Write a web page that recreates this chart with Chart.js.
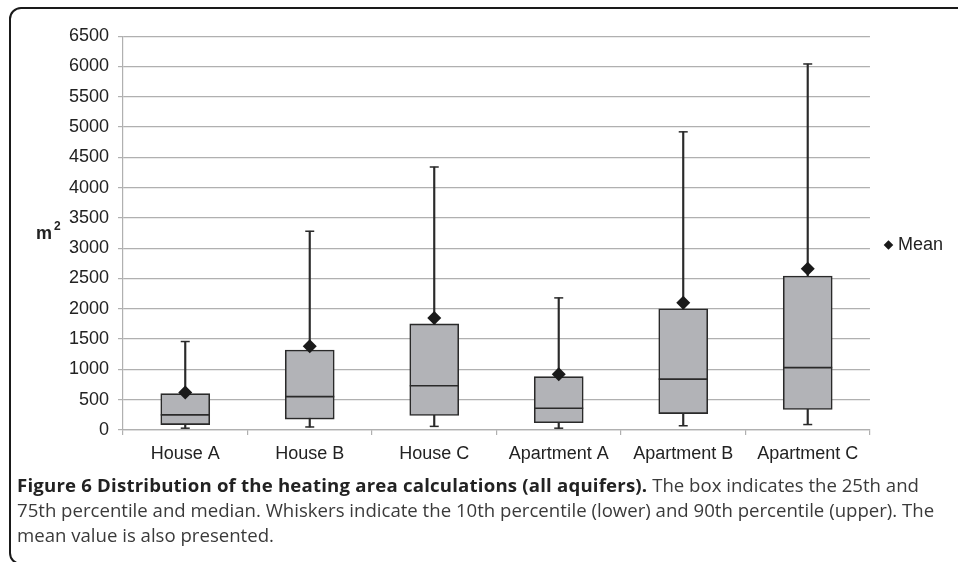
<!DOCTYPE html>
<html>
<head>
<meta charset="utf-8">
<script src="https://cdn.jsdelivr.net/npm/chart.js@4/dist/chart.umd.min.js"></script>
<style>
  html, body { margin: 0; padding: 0; background: #fff; width: 958px; height: 562px; overflow: hidden; }
  #frame { position: absolute; left: 9px; top: 7px; width: 1000px; height: 554px;
           border: 2px solid #1a1a1a; border-radius: 12px 0 0 12px; }
  #wrap { position: absolute; left: 10px; top: 10px; width: 948px; height: 468px; }
  #ylab { position: absolute; left: 36px; top: 221px; font-family: "Liberation Sans", Arial, sans-serif;
          font-weight: bold; font-size: 18px; color: #222; }
  #ylab sup { font-size: 12px; position: relative; top: -2px; margin-left: 2px; }
  #cap { position: absolute; left: 17px; top: 472px; font-family: "Open Sans", sans-serif; font-size: 18.6px;
         line-height: 25px; color: #3a3a3a; white-space: nowrap; }
  #cap b { color: #222; letter-spacing: 0.2px; }
</style>
</head>
<body>
<div id="frame"></div>
<div id="wrap"><canvas id="c" width="948" height="468" style="width:948px;height:468px"></canvas></div>
<div id="ylab">m<sup>2</sup></div>
<div id="cap"><b>Figure 6 Distribution of the heating area calculations (all aquifers).</b> The box indicates the 25th and<br>75th percentile and median. Whiskers indicate the 10th percentile (lower) and 90th percentile (upper). The<br>mean value is also presented.</div>
<script>
const categories = ["House A", "House B", "House C", "Apartment A", "Apartment B", "Apartment C"];
const p10    = [30, 50, 60, 30, 70, 90];
const q1     = [90, 180, 240, 120, 270, 340];
const median = [250, 550, 730, 360, 840, 1030];
const q3     = [600, 1320, 1750, 880, 2000, 2540];
const p90    = [1460, 3280, 4340, 2180, 4920, 6040];
const mean   = [620, 1380, 1850, 920, 2100, 2660];
const yTicks = { min: 0, max: 6500, step: 500 };

const dark = "#2a2a2a";
const gridColor = "#b0b0b0";
const font = { family: "'Liberation Sans', Arial, sans-serif", size: 18 };

new Chart(document.getElementById("c"), {
  type: "bar",
  data: {
    labels: categories,
    datasets: [
      { type: "line", label: "Mean", data: mean, showLine: false, order: 0,
        pointStyle: "rectRot", pointRadius: 7, pointHoverRadius: 7,
        pointBackgroundColor: "#1a1a1a", pointBorderColor: "#1a1a1a", pointBorderWidth: 0,
        backgroundColor: "#1a1a1a", borderColor: "#1a1a1a" },
      { type: "line", label: "Median", data: median, showLine: false, order: 1,
        pointStyle: "line", pointRadius: 24.5, pointHoverRadius: 24.5,
        pointBorderColor: dark, pointBorderWidth: 1.6, borderColor: dark },
      { type: "line", label: "P90cap", data: p90, showLine: false, order: 1,
        pointStyle: "line", pointRadius: 4.5, pointHoverRadius: 4.5,
        pointBorderColor: dark, pointBorderWidth: 1.5, borderColor: dark },
      { type: "line", label: "P10cap", data: p10, showLine: false, order: 1,
        pointStyle: "line", pointRadius: 4.5, pointHoverRadius: 4.5,
        pointBorderColor: dark, pointBorderWidth: 1.5, borderColor: dark },
      { label: "Box", data: q1.map((v, i) => [v, q3[i]]), order: 2, grouped: false,
        barThickness: 49, backgroundColor: "#b2b3b7", borderColor: dark, borderWidth: 1.6,
        borderSkipped: false },
      { label: "Whisker", data: p10.map((v, i) => [v, p90[i]]), order: 3, grouped: false,
        barThickness: 1.5, backgroundColor: dark, borderWidth: 0 }
    ]
  },
  options: {
    responsive: false,
    animation: false,
    events: [],
    layout: { padding: { top: 10, right: 5, bottom: 8, left: 0 } },
    plugins: {
      tooltip: { enabled: false },
      legend: {
        position: "right",
        align: "center",
        labels: {
          filter: (item) => item.text === "Mean",
          usePointStyle: true,
          boxWidth: 1,
          boxHeight: 6.8,
          padding: 18,
          color: "#222",
          font: font
        }
      }
    },
    scales: {
      x: {
        offset: true,
        grid: { display: true, offset: true, drawOnChartArea: false, drawTicks: true, tickLength: 5, color: gridColor, lineWidth: 1.2 },
        border: { color: gridColor, width: 1.2 },
        ticks: { color: "#222", font: font, padding: 8, maxRotation: 0, autoSkip: false },
        afterFit: (s) => { s.height = 40; }
      },
      y: {
        min: yTicks.min, max: yTicks.max,
        grid: { color: gridColor, lineWidth: 1.2, tickLength: 5, drawTicks: true },
        border: { color: gridColor, width: 1.2 },
        ticks: { stepSize: yTicks.step, color: "#222", font: font, padding: 9,
                 callback: (v) => String(v) },
        afterFit: (s) => { s.width = 113; s.paddingTop = 25; }
      }
    }
  }
});
</script>
</body>
</html>
